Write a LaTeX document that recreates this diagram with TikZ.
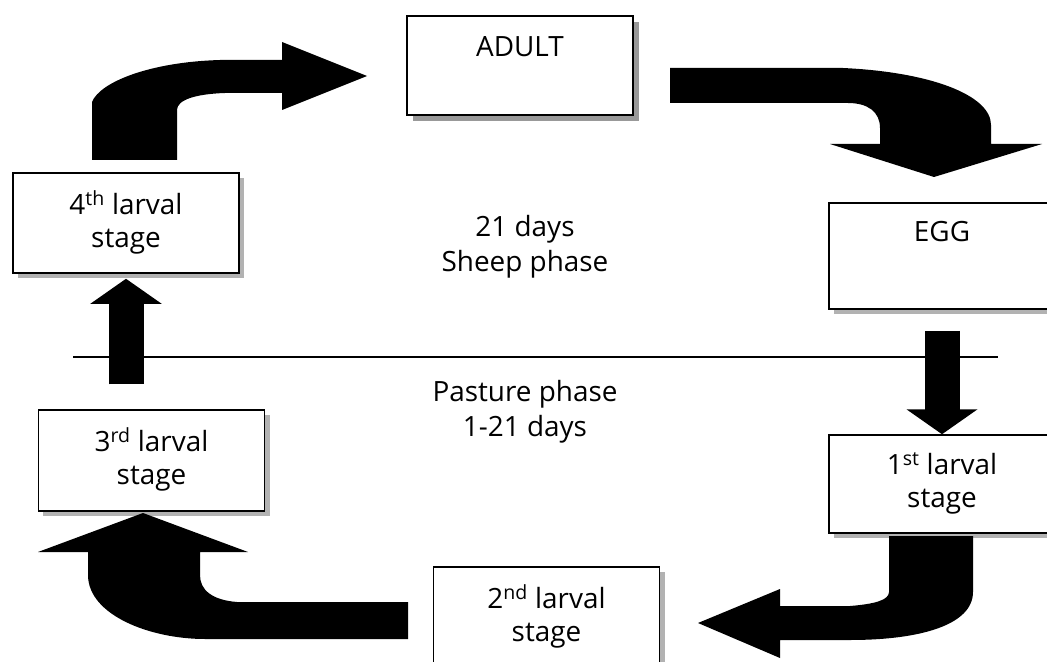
\documentclass[tikz,border=0pt]{standalone}
\usepackage{fontspec}
\setmainfont{Open Sans}
\usepackage{tikz}
\usetikzlibrary{arrows.meta, shadows, positioning}
\tikzset{
    stagebox/.style = {draw, rectangle, fill=white, line width=1.5bp, inner sep=0em,
      minimum width=226bp, minimum height=100bp},
    softshadow/.style = {general shadow={fill=gray!60, shadow xshift=5bp, shadow yshift=-5bp}},
    darkshadow/.style = {general shadow={fill=gray!80, shadow xshift=6bp, shadow yshift=-6bp}},
    stagetext/.style = {draw=none, fill=none, rectangle, inner sep=0em, align=center,
      font=\fontsize{28}{33}\selectfont},
    phasetext/.style = {draw=none, fill=none, rectangle, inner sep=0em, align=center,
      font=\fontsize{28}{35}\selectfont},
    blockarrow/.style = {fill=black, draw=none},
    straightarrow/.style = {black, line width=35bp, -{Triangle[length=25bp, width=70bp]}},
    divider/.style = {black, line width=1.5bp}
}

\begin{document}
\begin{tikzpicture}[x=1bp, y=-1bp]
    \useasboundingbox (0,0) rectangle (1047,662);
    \clip (0,0) rectangle (1047,662);

    % stages of the cycle
    \node [name=adult, stagebox, darkshadow, minimum height=99bp] at (520,65.5) {};
    \node [name=egg, stagebox, softshadow, minimum height=106bp] at (942,256) {};
    \node [name=first, stagebox, softshadow, minimum height=98bp] at (942,484) {};
    \node [name=second, stagebox, softshadow] at (546.5,617) {};
    \node [name=third, stagebox, softshadow, minimum height=101bp] at (151.5,460.5) {};
    \node [name=fourth, stagebox, softshadow] at (126,223) {};

    \node [name=adulttext, stagetext, below=21bp of adult.north] {ADULT};
    \node [name=eggtext, stagetext, below=19bp of egg.north] {EGG};
    \node [name=firsttext, stagetext, below=18bp of first.north] {1\textsuperscript{st} larval\\stage};
    \node [name=secondtext, stagetext, below=18bp of second.north] {2\textsuperscript{nd} larval\\stage};
    \node [name=thirdtext, stagetext, below=18bp of third.north] {3\textsuperscript{rd} larval\\stage};
    \node [name=fourthtext, stagetext, below=18bp of fourth.north] {4\textsuperscript{th} larval\\stage};

    % the two phases
    \coordinate (lineleft) at (73,357);
    \coordinate (lineright) at (998,357);
    \draw [divider] (lineleft) -- (lineright);
    \node [name=sheep, phasetext, anchor=north] at (525,215) {21 days\\Sheep phase};
    \node [name=pasture, phasetext, anchor=north] at (525,380) {Pasture phase\\1-21 days};

    % straight arrows
    \draw [straightarrow, shorten <=21bp] (egg.south) -- (first.north);
    \draw [straightarrow, shorten <=25bp, shorten >=5bp] (fourth.south |- third.north) -- (fourth.south);

    % bent arrows
    \fill [blockarrow] (92,160) -- (92,102) .. controls (100,82) and (150,62) .. (220,60) -- (282,60)
        -- (282,42) -- (367,76) -- (282,110) -- (282,93) -- (225,93)
        .. controls (195,94) and (177,100) .. (177,110) -- (177,160) -- cycle;
    \fill [blockarrow] (670,68) -- (843,68) .. controls (930,72) and (991,95) .. (991,125) -- (991,144)
        -- (1042,144) -- (934,177) -- (830,144) -- (880,144) -- (880,128)
        .. controls (880,112) and (868,103) .. (848,103) -- (670,103) -- cycle;
    \fill [blockarrow] (889,536) -- (973,536) -- (973,592) .. controls (973,625) and (920,640) .. (850,640)
        -- (780,640) -- (780,658) -- (698,623) -- (780,589) -- (780,606) -- (850,606)
        .. controls (875,604) and (889,600) .. (889,592) -- cycle;
    \fill [blockarrow] (408,602) -- (237,602) .. controls (212,600) and (200,590) .. (200,575) -- (200,552)
        -- (248,552) -- (143,513) -- (38,552) -- (88,552) -- (88,575)
        .. controls (88,615) and (150,639) .. (205,639) -- (408,639) -- cycle;
\end{tikzpicture}
\end{document}
